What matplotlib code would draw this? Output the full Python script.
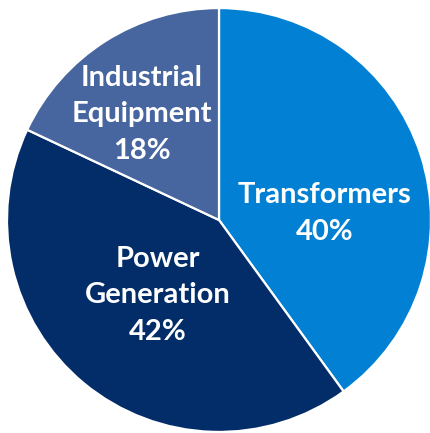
import matplotlib.pyplot as plt

# data
segments = ["Transformers", "Power\nGeneration", "Industrial\nEquipment"]
shares = [40, 42, 18]
colors = ["#0281d4", "#032d69", "#4766a0"]
# label centres in pie-radius units
label_pos = [(0.50, 0.03), (-0.29, -0.355), (-0.365, 0.50)]

fig = plt.figure(figsize=(4.31, 4.33), dpi=100)
ax = fig.add_axes([0, 0, 1, 1])
ax.pie(shares, colors=colors, startangle=90, counterclock=False, radius=1.0,
       wedgeprops=dict(edgecolor="white", linewidth=1.6))
ax.set_xlim(-1.033, 1.0)
ax.set_ylim(-1.005, 1.038)
ax.set_aspect("auto")
ax.axis("off")

for name, v, (x, y) in zip(segments, shares, label_pos):
    ax.text(x, y, f"{name}\n{v}%", ha="center", va="center", color="white",
            fontsize=21, fontweight="bold", family="Lato", linespacing=1.5)

plt.savefig("out.png", dpi=100)
